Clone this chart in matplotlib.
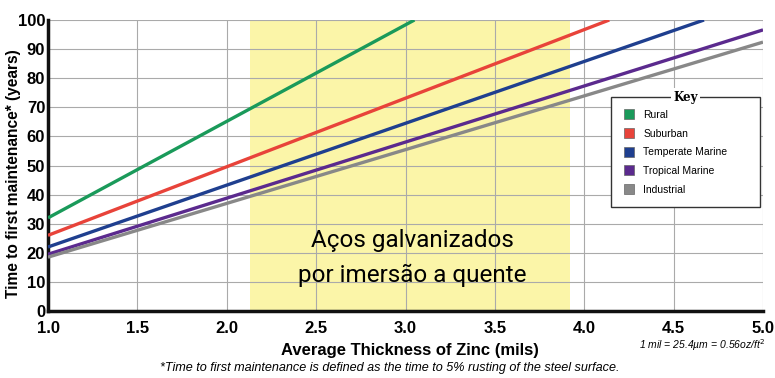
import matplotlib
matplotlib.use("Agg")
import matplotlib.pyplot as plt
from matplotlib.patches import Patch

plt.rcParams['font.family'] = ['Liberation Sans', 'DejaVu Sans']

series_names = ["Rural", "Suburban", "Temperate Marine", "Tropical Marine", "Industrial"]
series_x = [[1.0, 3.05], [1.0, 4.14], [1.0, 4.67], [1.0, 5.0], [1.0, 5.0]]
series_y = [[32, 100], [26, 100], [22, 100], [19.5, 96.6], [18.5, 92.4]]
colors = ["#1a9a5a", "#e8433a", "#1f3f8f", "#5b2a8e", "#888888"]
highlight_range = [2.13, 3.92]
x_ticks = [1.0, 1.5, 2.0, 2.5, 3.0, 3.5, 4.0, 4.5, 5.0]
y_ticks = [0, 10, 20, 30, 40, 50, 60, 70, 80, 90, 100]

W, H = 775, 378
fig = plt.figure(figsize=(7.75, 3.78), dpi=100)
ax = fig.add_axes([48/W, 1-311/H, 715/W, 291/H])

ax.axvspan(highlight_range[0], highlight_range[1], color="#fbf5a8", zorder=0, lw=0)
for xv in x_ticks:
    ax.axvline(xv, color="#aaaaaa", lw=0.8, zorder=1)
for yv in y_ticks:
    ax.axhline(yv, color="#aaaaaa", lw=0.8, zorder=1)

for name, xs, ys, c in zip(series_names, series_x, series_y, colors):
    ax.plot(xs, ys, color=c, lw=2.4, zorder=3, solid_capstyle='butt')

ax.set_xlim(1.0, 5.0)
ax.set_ylim(0, 100)
ax.set_xticks(x_ticks)
ax.set_xticklabels([f"{v:.1f}" for v in x_ticks], fontweight='bold', fontsize=12)
ax.set_yticks(y_ticks)
ax.set_yticklabels([str(v) for v in y_ticks], fontweight='bold', fontsize=12)
ax.tick_params(length=0, pad=2)
ax.tick_params(axis='x', pad=7)
for s in ['top', 'right']:
    ax.spines[s].set_visible(False)
for s in ['left', 'bottom']:
    ax.spines[s].set_linewidth(2.5)
    ax.spines[s].set_color('#111111')

ax.set_ylabel("Time to first maintenance* (years)", fontweight='bold', fontsize=11.2)
ax.yaxis.set_label_coords(-(48-21)/715, (311-174)/291)
ax.set_xlabel("Average Thickness of Zinc (mils)", fontweight='bold', fontsize=12)
ax.xaxis.set_label_coords((410-48)/715, -(343-311)/291)

bx = (412-48)/715
ax.text(bx, (311-241)/291, "Aços galvanizados", transform=ax.transAxes,
        ha='center', va='center', fontsize=17.5, family=['Roboto', 'DejaVu Sans'], zorder=4)
ax.text(bx, (311-275)/291, "por imersão a quente", transform=ax.transAxes,
        ha='center', va='center', fontsize=17.5, family=['Roboto', 'DejaVu Sans'], zorder=4)

handles = [Patch(facecolor=c, edgecolor='#666666', lw=0.5) for c in colors]
lx0, lx1, ly0, ly1 = 611, 760, 97, 203
bbox = ((lx0-48)/715, (311-ly1)/291, (lx1-lx0)/715, (ly1-ly0)/291)
leg = ax.legend(handles, series_names, loc='upper left', bbox_to_anchor=bbox, mode='expand',
                borderaxespad=0, fontsize=7.5, frameon=True, fancybox=False, edgecolor='#333333',
                framealpha=1, handlelength=1.0, handleheight=1.1, handletextpad=0.9,
                labelspacing=0.78, borderpad=1.2)
leg.get_frame().set_linewidth(1.0)
leg.set_zorder(5)
kt = fig.text((lx0+lx1)/2/W, 1-ly0/H, "Key", ha='center', va='center', fontsize=8.5,
              family=['DejaVu Serif'], fontweight='bold', zorder=6,
              bbox=dict(facecolor='white', edgecolor='none', pad=1.5))

fig.text(765/W, 1-345/H, "1 mil = 25.4µm = 0.56oz/ft$^2$", ha='right', va='center', fontsize=7.5, style='italic')
fig.text(390/W, 1-368/H, "*Time to first maintenance is defined as the time to 5% rusting of the steel surface.",
         ha='center', va='center', fontsize=9.1, style='italic')

fig.savefig("out.png", dpi=100)
